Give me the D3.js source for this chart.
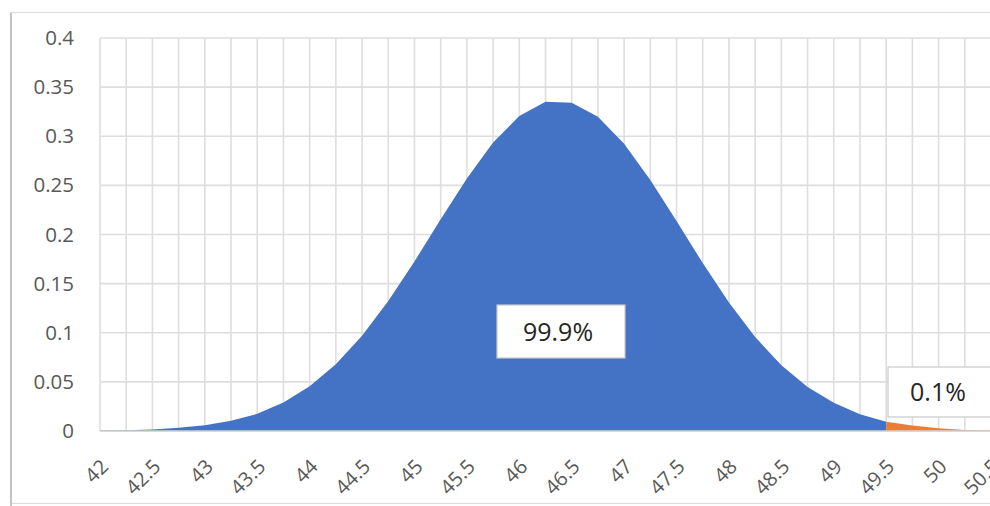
<!DOCTYPE html>
<html>
<head>
<meta charset="utf-8">
<script src="https://cdn.jsdelivr.net/npm/d3@7"></script>
<style>
  html, body { margin: 0; padding: 0; background: #ffffff; }
  svg { display: block; }
</style>
</head>
<body>
<svg id="chart" width="990" height="506"></svg>
<script>
// ---- data ----
const categories = [42, 42.25, 42.5, 42.75, 43, 43.25, 43.5, 43.75, 44, 44.25, 44.5, 44.75,
  45, 45.25, 45.5, 45.75, 46, 46.25, 46.5, 46.75, 47, 47.25, 47.5, 47.75, 48, 48.25,
  48.5, 48.75, 49, 49.25, 49.5, 49.75, 50, 50.25, 50.5];

// main body (42 .. 49.5)
const mainValues = [0.0004, 0.0008, 0.0016, 0.0032, 0.0059, 0.0105, 0.0175, 0.0290, 0.0455,
  0.0680, 0.0970, 0.1322, 0.1726, 0.2154, 0.2571, 0.2936, 0.3206, 0.3352, 0.3340,
  0.3198, 0.2923, 0.2555, 0.2137, 0.1709, 0.1307, 0.0956, 0.0669, 0.0448, 0.0287,
  0.0170, 0.0095];

// tail (49.5 .. 50.5)
const tailCategories = [49.5, 49.75, 50, 50.25, 50.5];
const tailValues = [0.0095, 0.0055, 0.0028, 0.0010, 0.0004];

const yTicks = [0, 0.05, 0.1, 0.15, 0.2, 0.25, 0.3, 0.35, 0.4];
const yTickLabels = ["0", "0.05", "0.1", "0.15", "0.2", "0.25", "0.3", "0.35", "0.4"];
const xTickLabels = ["42", "42.5", "43", "43.5", "44", "44.5", "45", "45.5", "46", "46.5",
  "47", "47.5", "48", "48.5", "49", "49.5", "50", "50.5"];

const labelMain = "99.9%";
const labelTail = "0.1%";

// ---- layout ----
const svg = d3.select("#chart");
const W = 990, H = 506;
const plot = { left: 100, right: 991, top: 38, bottom: 431 };

const x = d3.scalePoint().domain(categories).range([plot.left, plot.right]);
const y = d3.scaleLinear().domain([0, 0.4]).range([plot.bottom, plot.top]);

const font = "'Open Sans', 'Noto Sans', sans-serif";

// chart frame
svg.append("rect")
  .attr("x", 10.5).attr("y", 12.5).attr("width", 1000).attr("height", 491)
  .attr("fill", "#ffffff").attr("stroke", "#dcdcdc").attr("stroke-width", 1.2);
svg.append("line")
  .attr("x1", 11).attr("x2", 11).attr("y1", 13).attr("y2", 506)
  .attr("stroke", "#c4c4c4").attr("stroke-width", 2);

// gridlines
const grid = svg.append("g");
grid.selectAll("line.v").data(categories).enter().append("line")
  .attr("x1", d => x(d)).attr("x2", d => x(d))
  .attr("y1", plot.top).attr("y2", plot.bottom)
  .attr("stroke", "#dedede").attr("stroke-width", 1.6);
grid.selectAll("line.h").data(yTicks).enter().append("line")
  .attr("x1", plot.left).attr("x2", W + 5)
  .attr("y1", d => y(d)).attr("y2", d => y(d))
  .attr("stroke", "#dedede").attr("stroke-width", 1.6);

// areas
const mainData = mainValues.map((v, i) => ({ c: categories[i], v }));
const tailData = tailValues.map((v, i) => ({ c: tailCategories[i], v }));
const area = d3.area().x(d => x(d.c)).y0(y(0)).y1(d => y(d.v)).curve(d3.curveLinear);

svg.append("path").datum(mainData).attr("d", area).attr("fill", "#4472C4");
svg.append("path").datum(tailData).attr("d", area).attr("fill", "#ED7D31");

// baseline
svg.append("line")
  .attr("x1", plot.left).attr("x2", W + 5)
  .attr("y1", y(0)).attr("y2", y(0))
  .attr("stroke", "#d4d4d4").attr("stroke-width", 1.6);

// y axis
const yAxis = d3.axisLeft(y).tickValues(yTicks)
  .tickFormat((d, i) => yTickLabels[i]).tickSize(0).tickPadding(26);
const gy = svg.append("g").attr("transform", `translate(${plot.left},0)`).call(yAxis);
gy.select(".domain").remove();
gy.selectAll("text").attr("font-family", font).attr("font-size", 20.5).attr("fill", "#595959");

// x axis labels (every other category)
const xLabelCats = xTickLabels.map(s => +s);
const xAxis = d3.axisBottom(x).tickValues(xLabelCats)
  .tickFormat((d, i) => xTickLabels[i]).tickSize(0).tickPadding(0);
const gx = svg.append("g").attr("transform", `translate(0,${plot.bottom})`).call(xAxis);
gx.select(".domain").remove();
gx.selectAll("text")
  .attr("font-family", font).attr("font-size", 20).attr("fill", "#595959")
  .attr("text-anchor", "end")
  .attr("dy", "0")
  .attr("y", 0)
  .attr("transform", "translate(9,37) rotate(-45)");

// data labels
function labelBox(bx, by, w, h, tx, text) {
  const g = svg.append("g");
  g.append("rect")
    .attr("x", bx).attr("y", by).attr("width", w).attr("height", h)
    .attr("fill", "#ffffff").attr("stroke", "#c8c8c8").attr("stroke-width", 1.2);
  g.append("text")
    .attr("x", tx).attr("y", by + h / 2).attr("dy", "0.36em")
    .attr("text-anchor", "middle")
    .attr("font-family", font).attr("font-size", 25).attr("fill", "#262626")
    .text(text);
}
labelBox(497, 305, 128, 53, 558, labelMain);
labelBox(888, 367, 130, 50, 938, labelTail);
</script>
</body>
</html>
